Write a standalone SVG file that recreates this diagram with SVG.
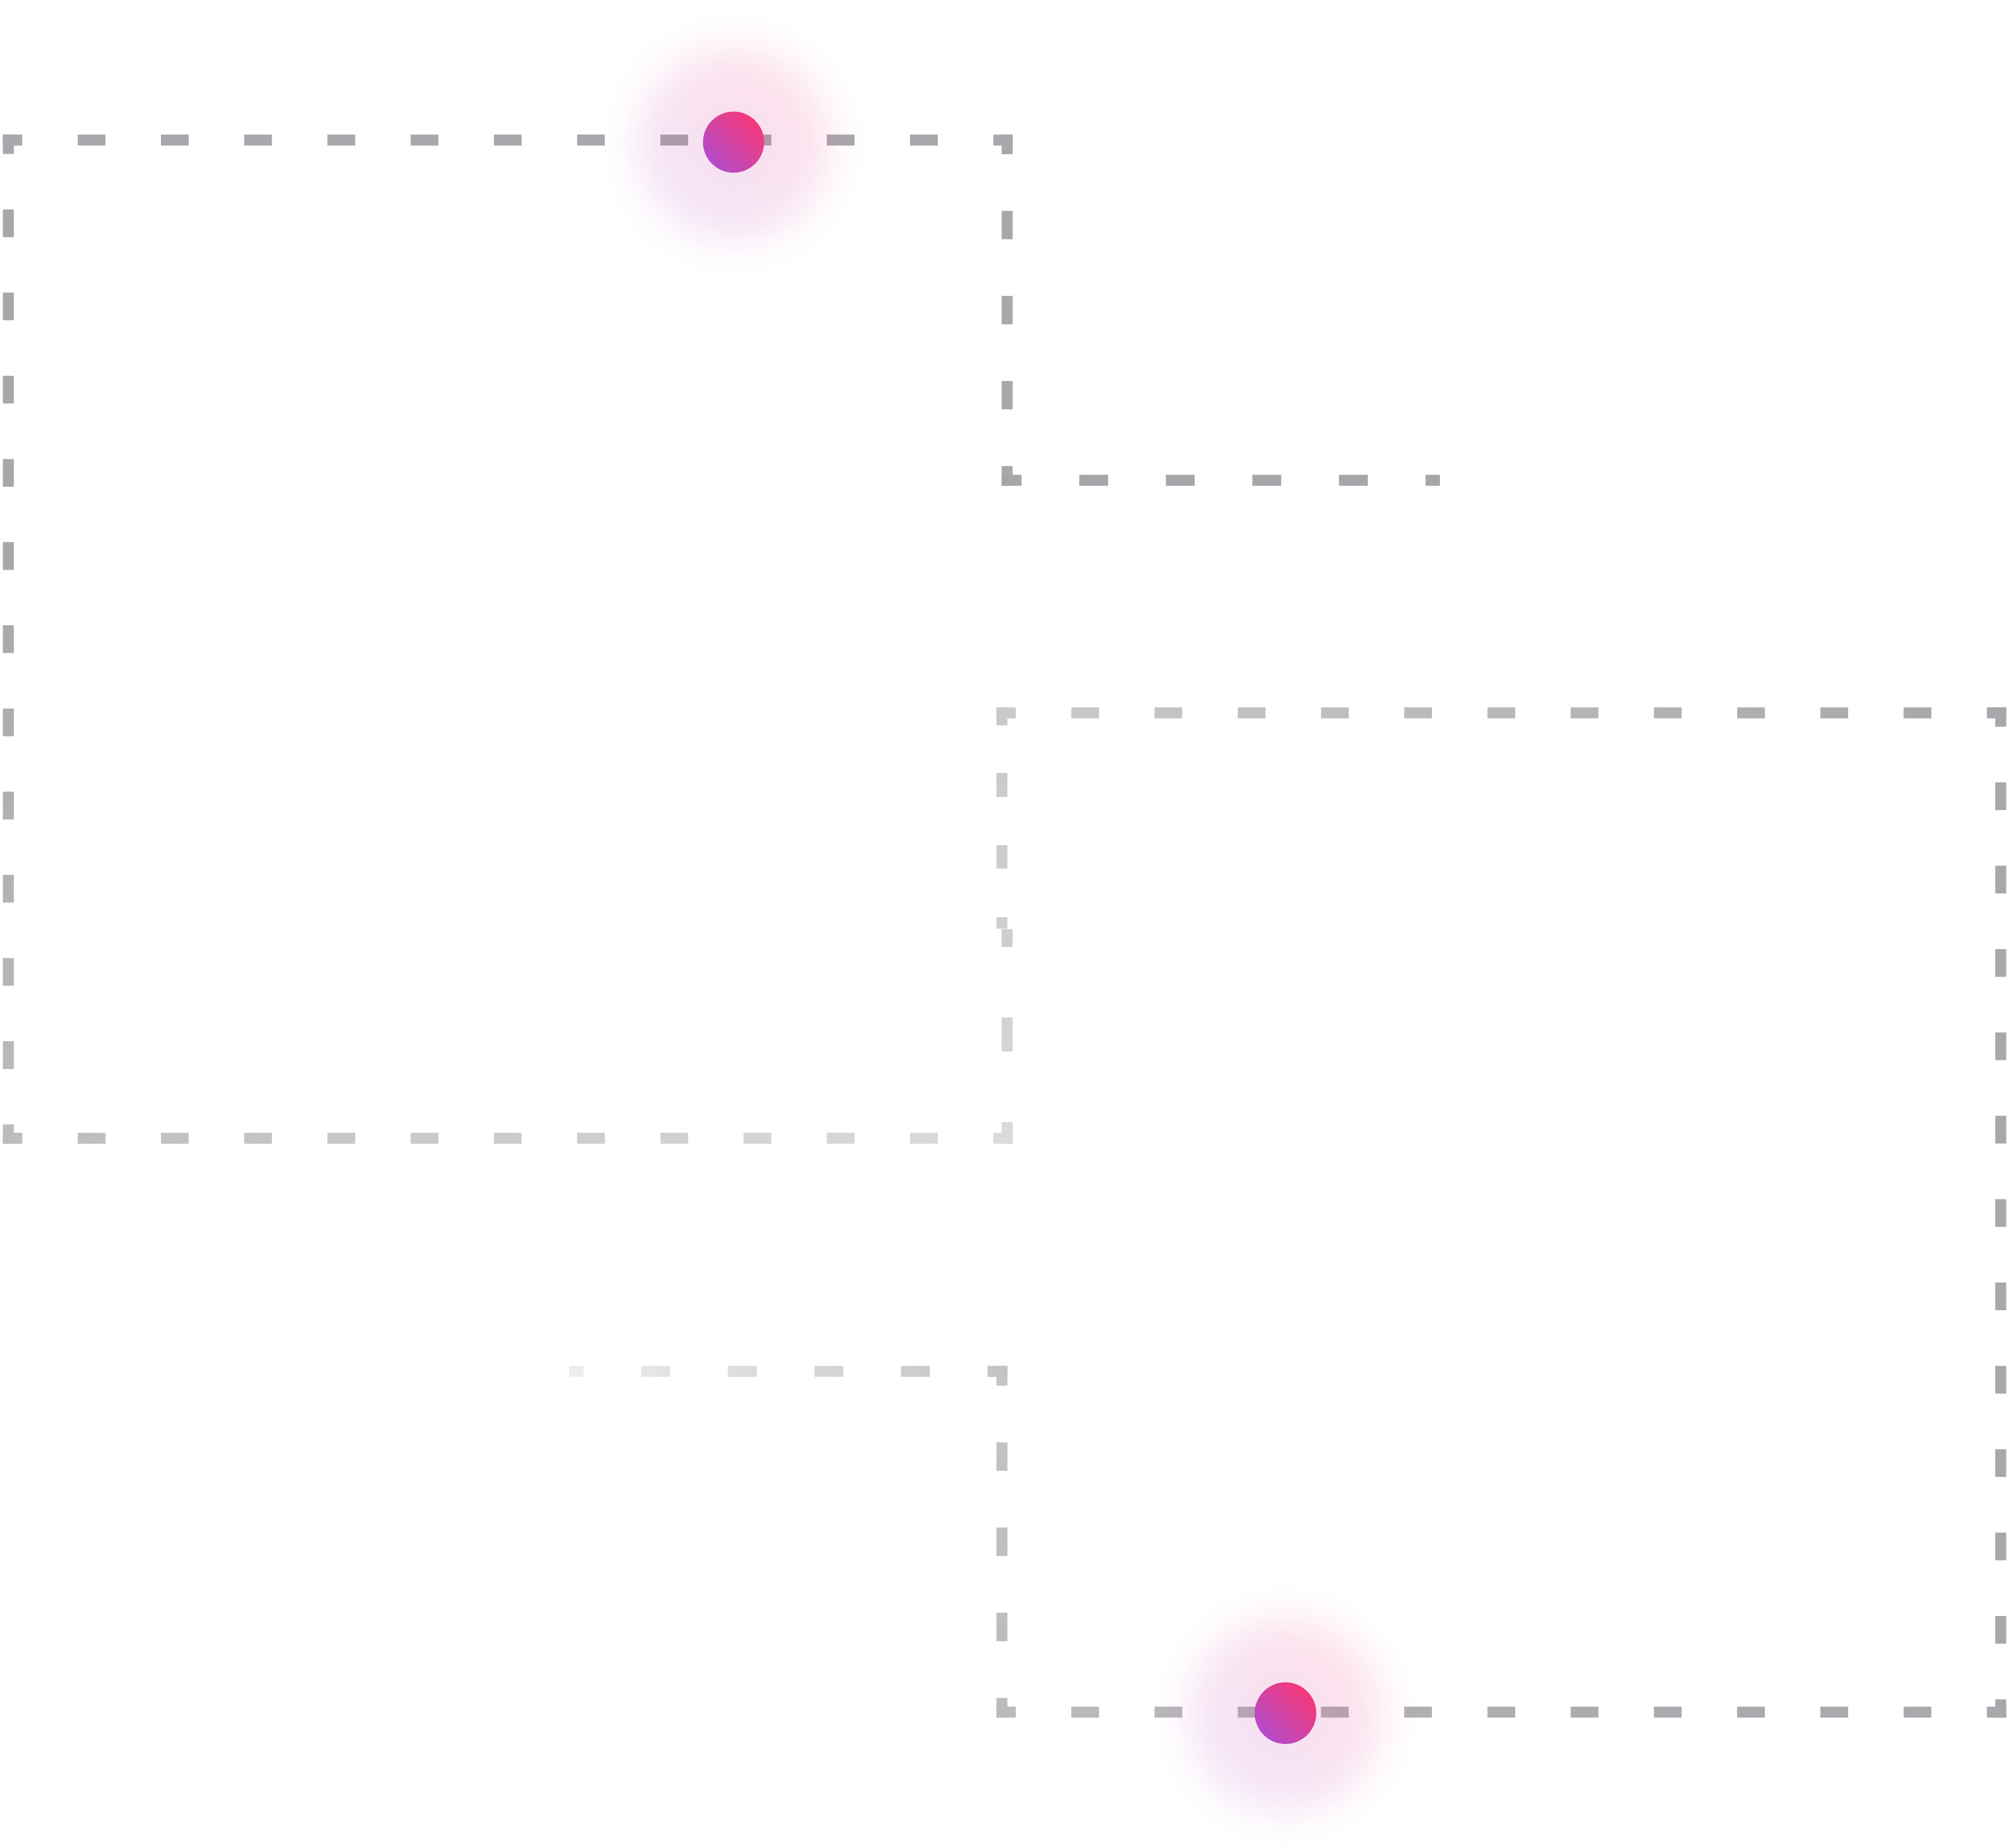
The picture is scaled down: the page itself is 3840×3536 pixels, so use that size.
<svg xmlns="http://www.w3.org/2000/svg" width="3840" height="3536" viewBox="0 0 3840 3536">
  <style>
    .dash { fill: none; stroke-width: 21; stroke-linecap: butt; }
    .p12 { stroke-dasharray: 53.08 106.17; stroke-dashoffset: 16.04; }
    .glow { opacity: 0.15; }
  </style>
  <defs>
    <linearGradient id="dotGrad" x1="0.05" y1="0.95" x2="0.95" y2="0.05">
      <stop offset="0.1" stop-color="#b24bcb"/>
      <stop offset="0.55" stop-color="#d9429b"/>
      <stop offset="0.9" stop-color="#f6387a"/>
    </linearGradient>
    <filter id="blur" x="-60%" y="-60%" width="220%" height="220%">
      <feGaussianBlur stdDeviation="38"/>
    </filter>
    <linearGradient id="gA-left" gradientUnits="userSpaceOnUse" x1="0" y1="258" x2="0" y2="2188">
      <stop offset="0.45" stop-color="#a8a8ac"/>
      <stop offset="1" stop-color="#bcbcbe"/>
    </linearGradient>
    <linearGradient id="gA-bottom" gradientUnits="userSpaceOnUse" x1="6" y1="0" x2="1937" y2="0">
      <stop offset="0" stop-color="#bcbcbe"/>
      <stop offset="1" stop-color="#dbdbdb"/>
    </linearGradient>
    <linearGradient id="gA-rlow" gradientUnits="userSpaceOnUse" x1="0" y1="1778" x2="0" y2="2188">
      <stop offset="0" stop-color="#cdcdcf"/>
      <stop offset="1" stop-color="#dbdbdb"/>
    </linearGradient>
    <linearGradient id="gB-top" gradientUnits="userSpaceOnUse" x1="1907" y1="0" x2="3838" y2="0">
      <stop offset="0" stop-color="#cacaca"/>
      <stop offset="1" stop-color="#a6a6aa"/>
    </linearGradient>
    <linearGradient id="gB-lup" gradientUnits="userSpaceOnUse" x1="0" y1="1354" x2="0" y2="1777">
      <stop offset="0" stop-color="#c9c9ca"/>
      <stop offset="1" stop-color="#cfcfd0"/>
    </linearGradient>
    <linearGradient id="gB-bottom" gradientUnits="userSpaceOnUse" x1="1907" y1="0" x2="3838" y2="0">
      <stop offset="0" stop-color="#bbbbbd"/>
      <stop offset="0.6" stop-color="#ababaf"/>
      <stop offset="1" stop-color="#a8a8ac"/>
    </linearGradient>
    <linearGradient id="gC2-h" gradientUnits="userSpaceOnUse" x1="1089" y1="0" x2="1927" y2="0">
      <stop offset="0" stop-color="#ededed"/>
      <stop offset="1" stop-color="#c4c4c6"/>
    </linearGradient>
    <linearGradient id="gC2-v" gradientUnits="userSpaceOnUse" x1="0" y1="2614" x2="0" y2="3286">
      <stop offset="0" stop-color="#c4c4c6"/>
      <stop offset="1" stop-color="#bbbbbd"/>
    </linearGradient>
  </defs>

  <rect width="3840" height="3536" fill="#ffffff"/>

  <g id="frame-a">
    <path class="dash p12" stroke="#a8a8ac" d="M5.5 268 H1937.5"/>
    <path class="dash" stroke="url(#gA-left)" style="stroke-dasharray:53.06 106.11;stroke-dashoffset:16.03" d="M16 257.5 V2188.5"/>
    <path class="dash p12" stroke="url(#gA-bottom)" d="M5.5 2178 H1937.5"/>
    <path class="dash" stroke="#a8a8ac" style="stroke-dasharray:54.25 108.5;stroke-dashoffset:16.63" d="M1927 257.5 V929.5"/>
    <path class="dash" stroke="url(#gA-rlow)" style="stroke-dasharray:34 135 65 135 41.5 0" d="M1927 1778 V2188.5"/>
  </g>

  <g id="frame-b">
    <path class="dash p12" stroke="url(#gB-top)" d="M1906.5 1364 H3838.5"/>
    <path class="dash" stroke="#a8a8ac" style="stroke-dasharray:53.17 106.33;stroke-dashoffset:16.08" d="M3828 1353.5 V3286.5"/>
    <path class="dash p12" stroke="url(#gB-bottom)" d="M1906.5 3276 H3838.5"/>
    <path class="dash" stroke="url(#gB-lup)" style="stroke-dasharray:34.5 91 46 92 45 93 22 0" d="M1917 1353.5 V1777"/>
  </g>

  <g id="connectors">
    <path id="connector-1" class="dash" stroke="#a6a6aa" style="stroke-dasharray:55.2 110.4;stroke-dashoffset:17.1" d="M1916.5 919 H2755"/>
    <path id="connector-2-h" class="dash" stroke="url(#gC2-h)" style="stroke-dasharray:55.2 110.4;stroke-dashoffset:27.6" d="M1089 2624 H1927.5"/>
    <path id="connector-2-v" class="dash" stroke="url(#gC2-v)" style="stroke-dasharray:54.33 108.67;stroke-dashoffset:16.67" d="M1917 2613.5 V3286.5"/>
  </g>

  <g id="node-dot-1">
    <circle class="glow" cx="1403" cy="276" r="185" fill="url(#dotGrad)" filter="url(#blur)"/>
    <circle cx="1403.5" cy="272" r="58.5" fill="url(#dotGrad)"/>
  </g>

  <g id="node-dot-2">
    <circle class="glow" cx="2459" cy="3282" r="185" fill="url(#dotGrad)" filter="url(#blur)"/>
    <circle cx="2459.5" cy="3278" r="59" fill="url(#dotGrad)"/>
  </g>
</svg>
